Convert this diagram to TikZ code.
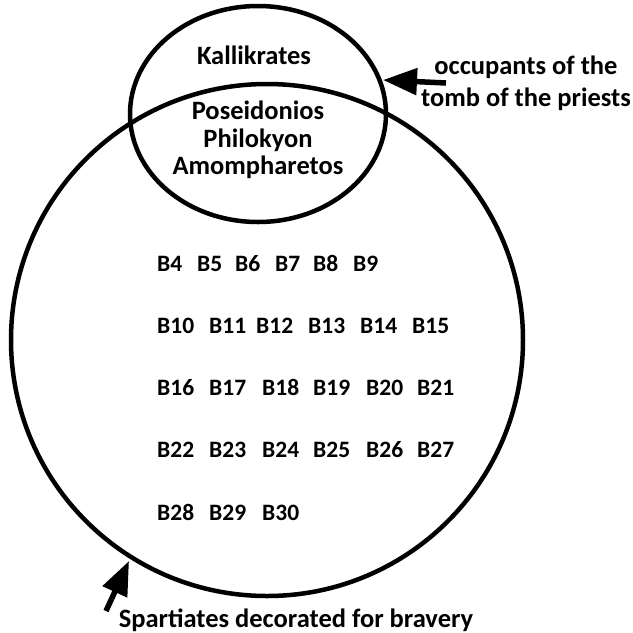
\documentclass[tikz,border=0pt]{standalone}
\usepackage{fontspec}
\setmainfont{Carlito}
\usetikzlibrary{arrows.meta}
\begin{document}
\begin{tikzpicture}[x=1pt,y=-1pt,
  ring/.style={draw=black,line width=4.5pt},
  lbl/.style={font=\bfseries\fontsize{26.5}{27.5}\selectfont,inner sep=0pt,align=center},
  note/.style={font=\bfseries\fontsize{26.5}{32}\selectfont,inner sep=0pt,align=center},
  grid/.style={font=\bfseries\fontsize{23.5}{27}\selectfont,inner sep=0pt,anchor=base west},
  pointer/.style={line width=5.5pt,-{Triangle[length=34pt,width=26pt]}}]
\useasboundingbox (0,0) rectangle (633,633);
\fill[white] (0,0) rectangle (633,633);
\draw[ring] (267,340) circle [radius=256pt];
\draw[ring] (258,114) ellipse [x radius=128pt, y radius=108pt];
\node[lbl] (kal) at (254,55) {Kallikrates};
\node[lbl] (pos) at (258,140) {Poseidonios\\Philokyon\\Amompharetos};
\node[note] (occ) at (526,83) {occupants of the\\tomb of the priests};
\node[note] (spa) at (296,620) {Spartiates decorated for bravery};
\coordinate (occtail) at (446,83);
\coordinate (occtip) at (383,80);
\coordinate (spatail) at (106,611);
\coordinate (spatip) at (129,561);
\draw[pointer] (occtail) -- (occtip);
\draw[pointer] (spatail) -- (spatip);
\foreach \t/\x in {B4/157,B5/197,B6/235,B7/275,B8/313,B9/353}
  \node[grid] (n\t) at (\x,271) {\t};
\foreach \t/\x in {B10/157,B11/209,B12/256,B13/308,B14/360,B15/412}
  \node[grid] (n\t) at (\x,333) {\t};
\foreach \t/\x in {B16/157,B17/209,B18/262,B19/313,B20/366,B21/417}
  \node[grid] (n\t) at (\x,395) {\t};
\foreach \t/\x in {B22/157,B23/209,B24/262,B25/313,B26/366,B27/417}
  \node[grid] (n\t) at (\x,457) {\t};
\foreach \t/\x in {B28/157,B29/209,B30/262}
  \node[grid] (n\t) at (\x,520) {\t};
\end{tikzpicture}
\end{document}
